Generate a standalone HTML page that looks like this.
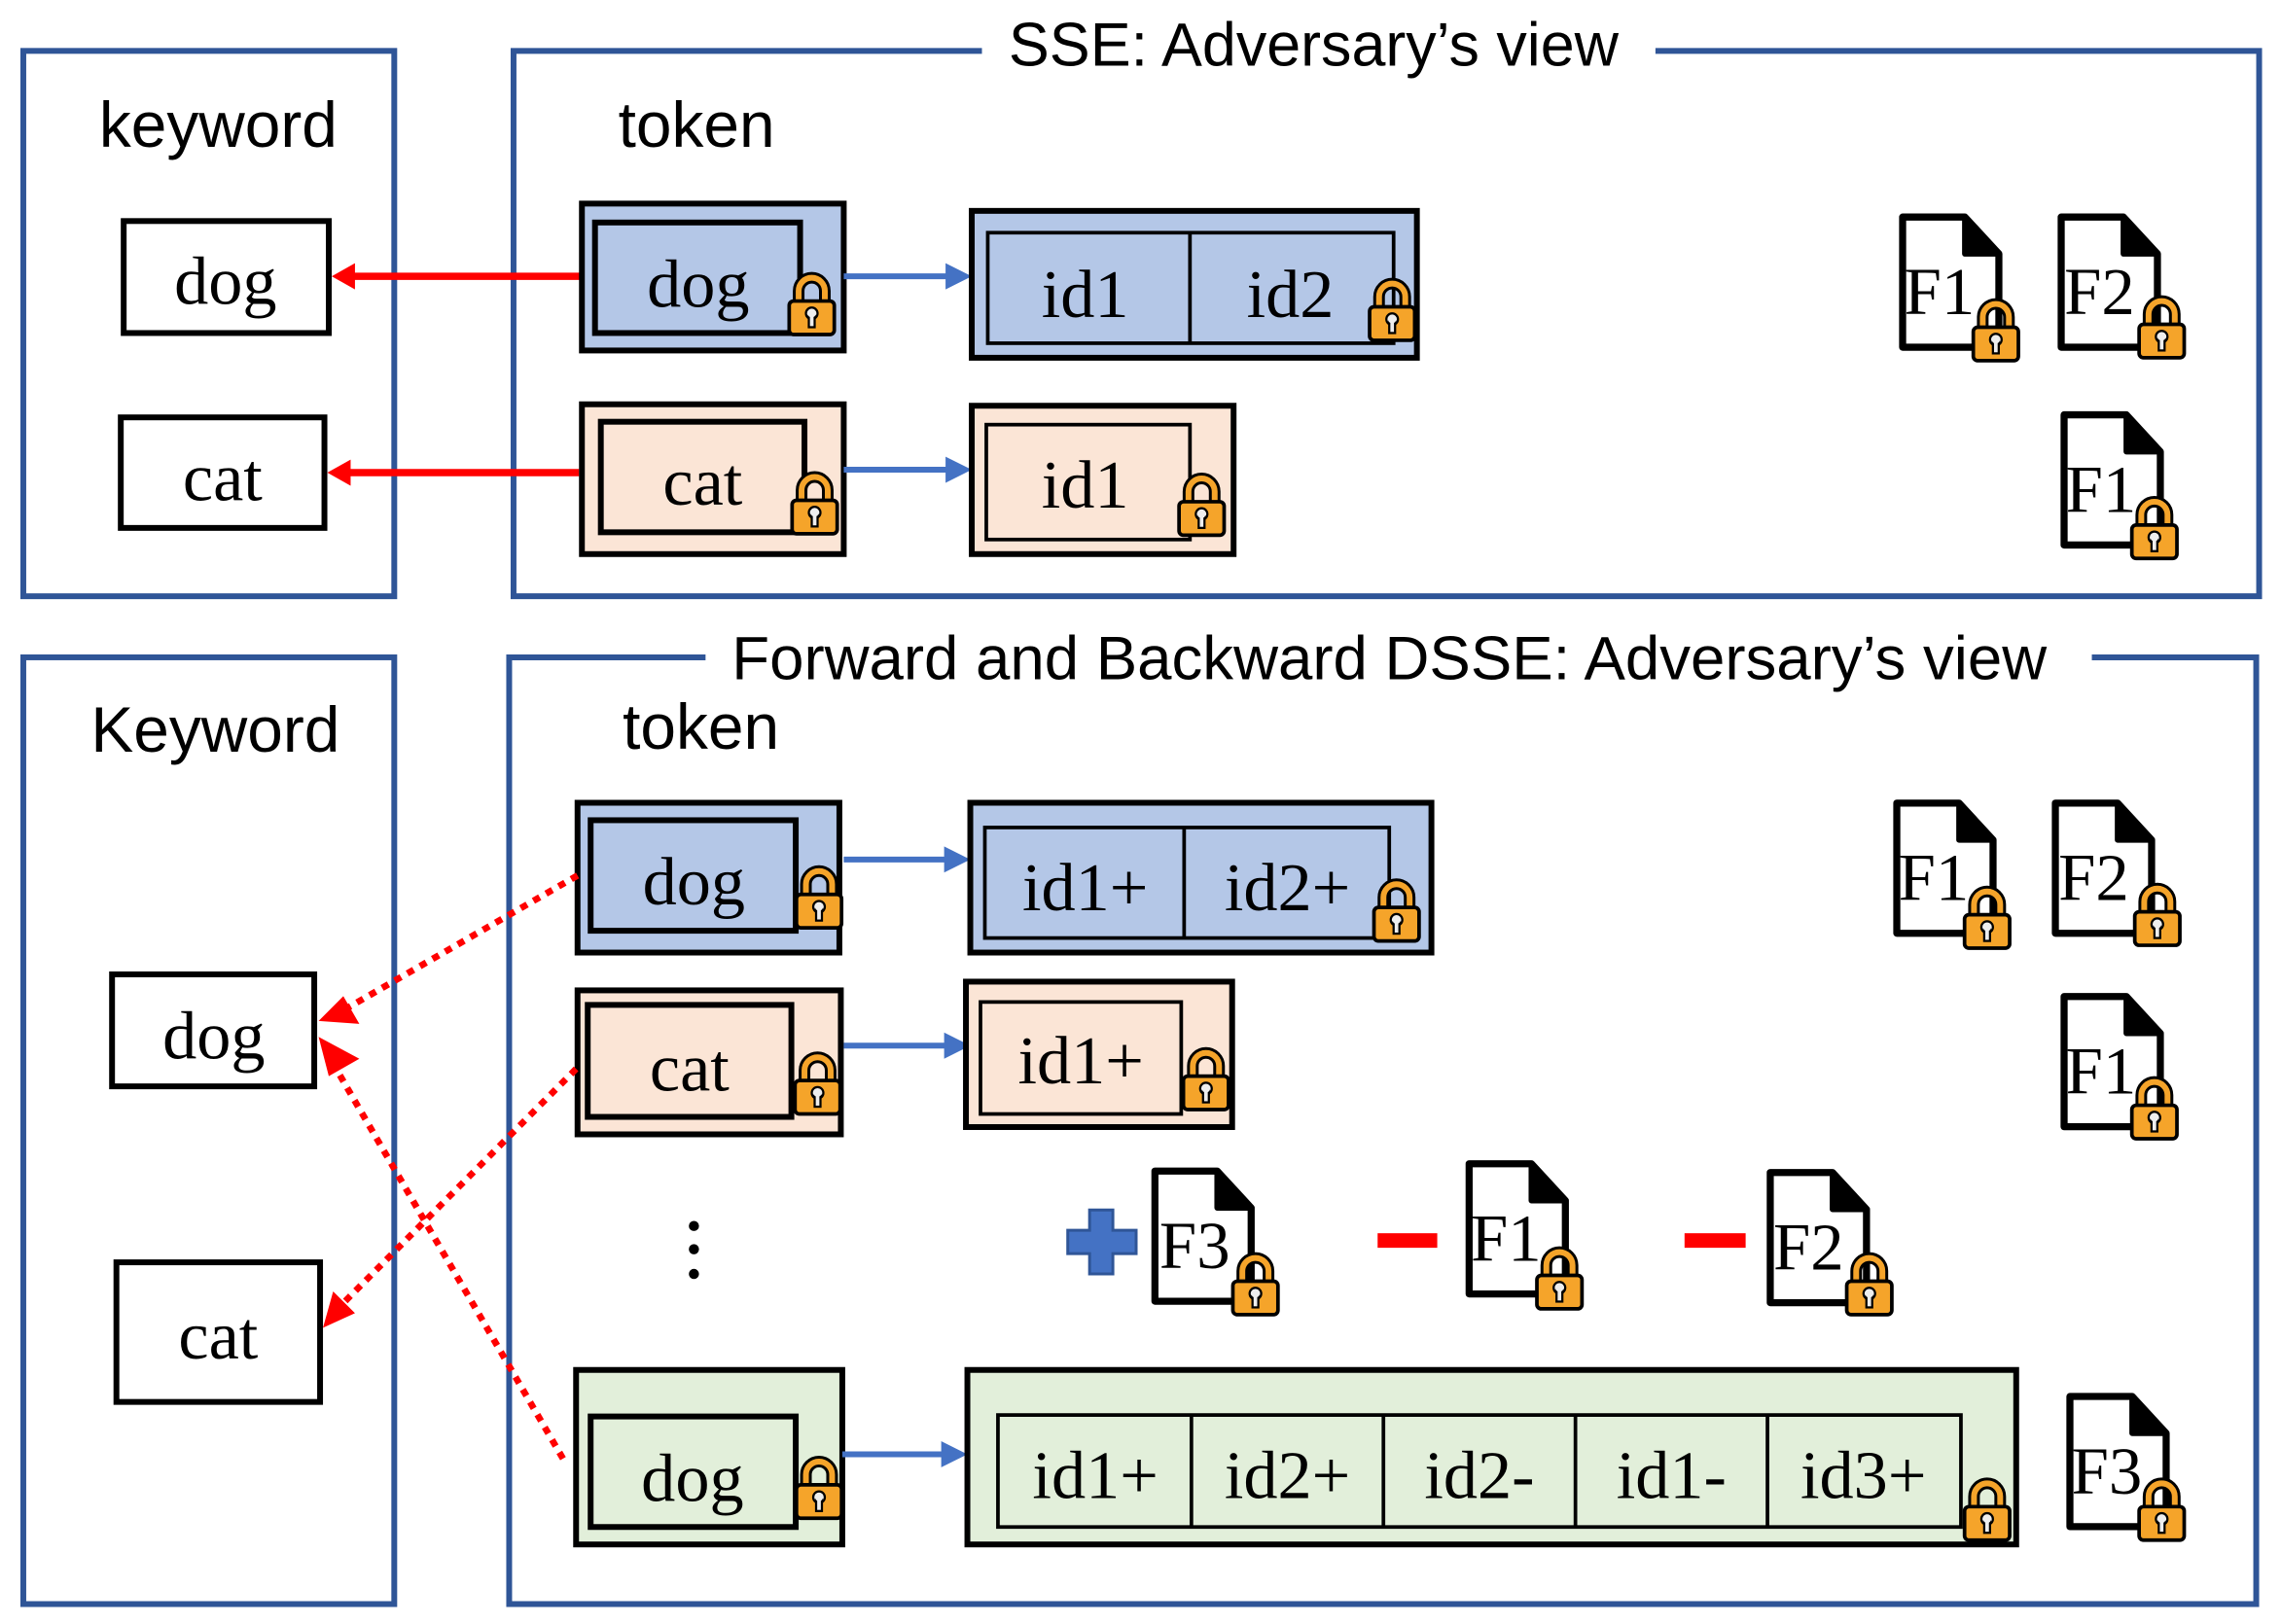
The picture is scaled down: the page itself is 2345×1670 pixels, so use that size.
<!DOCTYPE html>
<html><head><meta charset="utf-8"><style>html,body{margin:0;padding:0;background:#fff}svg{display:block}</style></head>
<body>
<svg width="2345" height="1670" viewBox="0 0 1568 1116.7" xmlns="http://www.w3.org/2000/svg">
<defs>
<symbol id="lock" viewBox="0 0 34 46">
<path d="M8 23 V14 a9 9 0 0 1 18 0 V23" fill="none" stroke="#000" stroke-width="8"/>
<path d="M8 23 V14 a9 9 0 0 1 18 0 V23" fill="none" stroke="#f5a42a" stroke-width="4"/>
<rect x="1.5" y="21" width="31" height="23" rx="3" fill="#f5a42a" stroke="#000" stroke-width="2.5"/>
<circle cx="17" cy="29.5" r="4" fill="#eee" stroke="#000" stroke-width="1.5"/>
<rect x="15" y="31" width="4" height="8" fill="#eee" stroke="#000" stroke-width="1.5"/>
<circle cx="17" cy="29.5" r="2.8" fill="#eee"/>
</symbol>
<symbol id="file" viewBox="0 0 74 98" overflow="visible">
<path d="M3 3 H47 L71 29 V95 H3 Z" fill="#fff" stroke="#000" stroke-width="5" stroke-linejoin="round"/>
<path d="M47 3 V29 H71 Z" fill="#000" stroke="#000" stroke-width="4" stroke-linejoin="round"/>
</symbol>
</defs>
<style>
.fr{fill:none;stroke:#2f5597;stroke-width:4}
.bx{stroke:#000;stroke-width:4}
.s{font-family:"Liberation Sans",sans-serif;font-size:42px;fill:#000}
.s2{font-family:"Liberation Sans",sans-serif;font-size:44px;fill:#000}
.t{font-family:"Liberation Serif",serif;font-size:47px;fill:#000;text-anchor:middle}
.ft{font-family:"Liberation Serif",serif;font-size:46px;fill:#000}
</style>

<!-- TOP -->
<rect class="fr" x="16" y="35" width="255" height="375"/>
<path class="fr" d="M675 35 H353 V410 H1553 V35 H1138"/>
<text class="s" x="903" y="45" text-anchor="middle">SSE: Adversary’s view</text>
<text class="s2" x="150" y="101" text-anchor="middle">keyword</text>
<text class="s2" x="425" y="101">token</text>

<rect class="bx" x="85" y="152" width="141" height="77" fill="#fff"/>
<text class="t" x="155" y="209">dog</text>
<rect class="bx" x="83" y="287" width="140" height="76" fill="#fff"/>
<text class="t" x="153" y="344">cat</text>

<line x1="400" y1="190" x2="240" y2="190" stroke="#ff0000" stroke-width="5"/>
<path d="M228 190 L244 181 L244 199 Z" fill="#ff0000"/>
<line x1="398" y1="325" x2="237" y2="325" stroke="#ff0000" stroke-width="5"/>
<path d="M225 325 L241 316 L241 334 Z" fill="#ff0000"/>

<rect class="bx" x="400" y="140" width="180" height="101" fill="#b4c7e7"/>
<rect class="bx" x="409" y="153" width="141" height="76" fill="#b4c7e7"/>
<text class="t" x="480" y="211">dog</text>
<use href="#lock" x="541" y="186" width="34" height="46"/>
<line x1="580" y1="190" x2="652" y2="190" stroke="#4472c4" stroke-width="4"/>
<path d="M668 190 L650 181 L650 199 Z" fill="#4472c4"/>
<rect class="bx" x="668" y="145" width="306" height="101" fill="#b4c7e7"/>
<rect x="679" y="160" width="279" height="76" fill="#b4c7e7" stroke="#000" stroke-width="2.5"/>
<line x1="818" y1="160" x2="818" y2="236" stroke="#000" stroke-width="2.5"/>
<text class="t" x="746" y="218">id1</text>
<text class="t" x="887" y="218">id2</text>
<use href="#lock" x="940" y="190" width="34" height="46"/>

<rect class="bx" x="400" y="278" width="180" height="103" fill="#fbe5d6"/>
<rect class="bx" x="413" y="290" width="140" height="76" fill="#fbe5d6"/>
<text class="t" x="483" y="347">cat</text>
<use href="#lock" x="543" y="323" width="34" height="46"/>
<line x1="580" y1="323" x2="652" y2="323" stroke="#4472c4" stroke-width="4"/>
<path d="M668 323 L650 314 L650 332 Z" fill="#4472c4"/>
<rect class="bx" x="668" y="279" width="180" height="102" fill="#fbe5d6"/>
<rect x="678" y="292" width="140" height="79" fill="#fbe5d6" stroke="#000" stroke-width="2.5"/>
<text class="t" x="746" y="349">id1</text>
<use href="#lock" x="809" y="324" width="34" height="46"/>

<use href="#file" x="1305" y="146" width="72" height="96"/>
<text class="ft" x="1309" y="216">F1</text>
<use href="#lock" x="1355" y="204" width="34" height="46"/>
<use href="#file" x="1414" y="146" width="72" height="96"/>
<text class="ft" x="1419" y="216">F2</text>
<use href="#lock" x="1469" y="202" width="34" height="46"/>
<use href="#file" x="1416" y="282" width="72" height="96"/>
<text class="ft" x="1420" y="352">F1</text>
<use href="#lock" x="1464" y="340" width="34" height="46"/>

<!-- BOTTOM -->
<rect class="fr" x="16" y="452" width="255" height="651"/>
<path class="fr" d="M485 452 H350 V1103 H1551 V452 H1438"/>
<text class="s" x="955" y="467" text-anchor="middle" textLength="904" lengthAdjust="spacingAndGlyphs">Forward and Backward DSSE: Adversary’s view</text>
<text class="s2" x="148" y="517" text-anchor="middle">Keyword</text>
<text class="s2" x="428" y="515">token</text>

<rect class="bx" x="77" y="670" width="139" height="77" fill="#fff"/>
<text class="t" x="147" y="728">dog</text>
<rect class="bx" x="80" y="868" width="140" height="96" fill="#fff"/>
<text class="t" x="150" y="934">cat</text>

<rect class="bx" x="397" y="552" width="180" height="103" fill="#b4c7e7"/>
<rect class="bx" x="406" y="564" width="141" height="76" fill="#b4c7e7"/>
<text class="t" x="477" y="622">dog</text>
<use href="#lock" x="546" y="594" width="34" height="46"/>
<line x1="580" y1="591" x2="652" y2="591" stroke="#4472c4" stroke-width="4"/>
<path d="M667 591 L649 582 L649 600 Z" fill="#4472c4"/>
<rect class="bx" x="667" y="552" width="317" height="103" fill="#b4c7e7"/>
<rect x="677" y="569" width="278" height="76" fill="#b4c7e7" stroke="#000" stroke-width="2.5"/>
<line x1="814" y1="569" x2="814" y2="645" stroke="#000" stroke-width="2.5"/>
<text class="t" x="746" y="626">id1+</text>
<text class="t" x="885" y="626">id2+</text>
<use href="#lock" x="943" y="603" width="34" height="46"/>

<rect class="bx" x="397" y="681" width="181" height="99" fill="#fbe5d6"/>
<rect class="bx" x="404" y="691" width="140" height="77" fill="#fbe5d6"/>
<text class="t" x="474" y="750">cat</text>
<use href="#lock" x="545" y="722" width="34" height="46"/>
<line x1="580" y1="719" x2="652" y2="719" stroke="#4472c4" stroke-width="4"/>
<path d="M667 719 L649 710 L649 728 Z" fill="#4472c4"/>
<rect class="bx" x="664" y="675" width="183" height="100" fill="#fbe5d6"/>
<rect x="674" y="689" width="138" height="77" fill="#fbe5d6" stroke="#000" stroke-width="2.5"/>
<text class="t" x="743" y="745">id1+</text>
<use href="#lock" x="812" y="719" width="34" height="46"/>

<use href="#file" x="1301" y="549" width="72" height="96"/>
<text class="ft" x="1305" y="619">F1</text>
<use href="#lock" x="1349" y="608" width="34" height="46"/>
<use href="#file" x="1410" y="549" width="72" height="96"/>
<text class="ft" x="1415" y="619">F2</text>
<use href="#lock" x="1466" y="606" width="34" height="46"/>
<use href="#file" x="1416" y="682" width="72" height="96"/>
<text class="ft" x="1420" y="752">F1</text>
<use href="#lock" x="1464" y="739" width="34" height="46"/>

<circle cx="477" cy="843" r="3.5" fill="#000"/>
<circle cx="477" cy="859" r="3.5" fill="#000"/>
<circle cx="477" cy="876" r="3.5" fill="#000"/>

<path d="M749 832 H765 V846 H781 V862 H765 V876 H749 V862 H734 V846 H749 Z" fill="#4472c4" stroke="#2f5597" stroke-width="2"/>
<use href="#file" x="791" y="802" width="72" height="96"/>
<text class="ft" x="797" y="872">F3</text>
<use href="#lock" x="846" y="860" width="34" height="46"/>

<rect x="947" y="848" width="41" height="10" fill="#ff0000"/>
<use href="#file" x="1007" y="797" width="72" height="96"/>
<text class="ft" x="1011" y="867">F1</text>
<use href="#lock" x="1055" y="856" width="34" height="46"/>

<rect x="1158" y="848" width="42" height="10" fill="#ff0000"/>
<use href="#file" x="1214" y="803" width="72" height="96"/>
<text class="ft" x="1219" y="873">F2</text>
<use href="#lock" x="1268" y="860" width="34" height="46"/>

<rect class="bx" x="396" y="942" width="183" height="120" fill="#e2efda"/>
<rect class="bx" x="406" y="974" width="141" height="76" fill="#e2efda"/>
<text class="t" x="476" y="1032">dog</text>
<use href="#lock" x="546" y="1000" width="34" height="46"/>
<line x1="579" y1="1000" x2="650" y2="1000" stroke="#4472c4" stroke-width="4"/>
<path d="M665 1000 L647 991 L647 1009 Z" fill="#4472c4"/>
<rect class="bx" x="665" y="942" width="721" height="120" fill="#e2efda"/>
<rect x="686" y="973" width="662" height="77" fill="#e2efda" stroke="#000" stroke-width="2.5"/>
<line x1="819" y1="973" x2="819" y2="1050" stroke="#000" stroke-width="2.5"/>
<line x1="951" y1="973" x2="951" y2="1050" stroke="#000" stroke-width="2.5"/>
<line x1="1083" y1="973" x2="1083" y2="1050" stroke="#000" stroke-width="2.5"/>
<line x1="1215" y1="973" x2="1215" y2="1050" stroke="#000" stroke-width="2.5"/>
<text class="t" x="753" y="1030">id1+</text>
<text class="t" x="885" y="1030">id2+</text>
<text class="t" x="1017" y="1030">id2-</text>
<text class="t" x="1149" y="1030">id1-</text>
<text class="t" x="1281" y="1030">id3+</text>
<use href="#lock" x="1349" y="1015" width="34" height="46"/>

<use href="#file" x="1420" y="957" width="72" height="96"/>
<text class="ft" x="1424" y="1027">F3</text>
<use href="#lock" x="1469" y="1015" width="34" height="46"/>

<!-- dotted red arrows -->
<g stroke="#ff0000" stroke-width="4.5" stroke-dasharray="5 5" fill="none">
<line x1="397" y1="602" x2="232" y2="697"/>
<line x1="396" y1="735" x2="232" y2="900"/>
<line x1="387" y1="1003" x2="227" y2="728"/>
</g>
<path d="M219 702 L236 685 L247 704 Z" fill="#ff0000"/>
<path d="M219 713 L247 728 L226 740 Z" fill="#ff0000"/>
<path d="M222 913 L229 888 L244 903 Z" fill="#ff0000"/>
</svg>
</body></html>
